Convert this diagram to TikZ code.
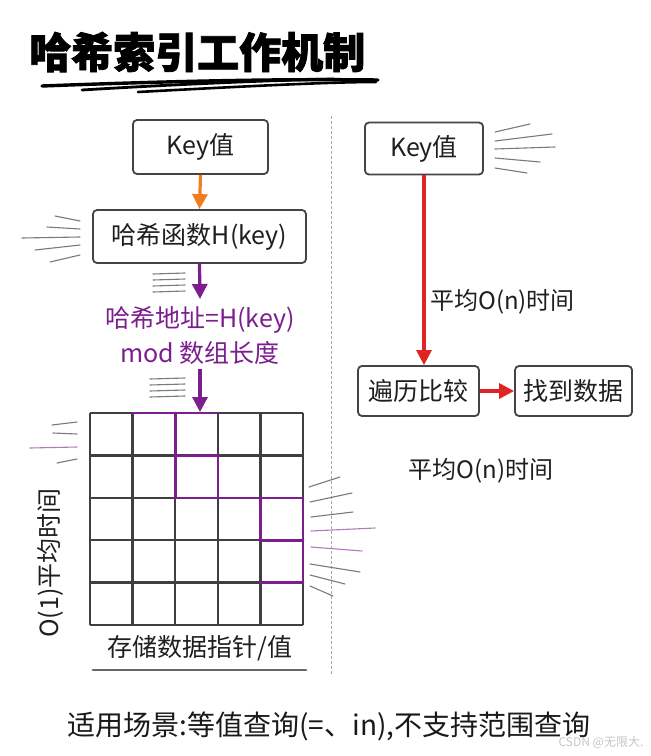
\documentclass[tikz,border=0pt]{standalone}
\usepackage{fontspec}
\setmainfont{Noto Sans CJK SC}[BoldFeatures={FakeBold=2}]
\usetikzlibrary{arrows.meta}
\definecolor{boxline}{HTML}{444444}
\definecolor{gridline}{HTML}{3F3F3F}
\definecolor{hashorange}{HTML}{F07D1E}
\definecolor{hashpurple}{HTML}{7D1E8E}
\definecolor{hashred}{HTML}{E02424}
\definecolor{speedgray}{HTML}{7A7A7A}
\tikzset{
  box/.style={draw=boxline, line width=1.8pt, rounded corners=4pt, fill=white,
    inner sep=0pt, font=\fontsize{25}{30}\selectfont, text=black!88},
  arr/.style={line width=3.2pt, -{Triangle[length=15pt,width=15pt]}},
  speed/.style={draw=speedgray, line width=1.1pt, line cap=round},
  speedp/.style={draw=hashpurple!60, line width=1.1pt, line cap=round},
  lbl/.style={font=\fontsize{24}{30}\selectfont, text=black!88},
}
\begin{document}
\begin{tikzpicture}[x=1pt,y=-1pt]
\useasboundingbox (0,0) rectangle (651,756);
\fill[white] (0,0) rectangle (651,756);

% title
\node[anchor=west, inner sep=0pt, font=\fontsize{42}{46}\bfseries] (title) at (29,52) {哈希索引工作机制};
\draw[line width=3.4pt, line cap=round] (42,86) .. controls (200,80) and (300,79) .. (378,80);
\draw[line width=2.8pt, line cap=round] (82,90) .. controls (180,84) and (280,80) .. (334,79);
\draw[line width=2.6pt, line cap=round] (138,92) .. controls (250,86) and (330,82) .. (376,82);

% dashed divider
\coordinate (dtop) at (331,116);
\coordinate (dbot) at (331,676);
\draw[gray!70, line width=1pt, dash pattern=on 3pt off 2pt] (dtop) -- (dbot);

% left flow
\node[box, minimum width=135pt, minimum height=54pt] (key1) at (200.5,147) {Key值};
\node[box, minimum width=213pt, minimum height=53pt] (hfun) at (199.5,236.5) {哈希函数H(key)};
\node[align=center, text=hashpurple, font=\fontsize{25}{35}\selectfont, inner sep=0pt] (addr) at (200,336) {哈希地址=H(key)\\mod 数组长度};
\coordinate (a1end) at (200,299);
\coordinate (a2start) at (200,369);
\coordinate (gtop) at (200,412);
\draw[arr, hashorange] (key1.south) -- (hfun.north);
\draw[arr, hashpurple] (hfun.south) -- (a1end);
\draw[arr, hashpurple] (a2start) -- (gtop);

% speed lines left of hash function box
\draw[speed] (55,216) -- (80,221);
\draw[speed] (47,227) -- (80,229);
\draw[speed] (22,238) -- (80,237);
\draw[speed] (35,250) -- (80,245);
\draw[speed] (50,262) -- (80,255);
% speed lines beside purple arrows
\foreach \yy in {274,280,286,292} { \draw[speed] (153,\yy) -- (185,\yy-1); }
\foreach \yy in {379,385,391,397} { \draw[speed] (150,\yy) -- (185,\yy-1); }

% grid
\def\gx{42.6}
\def\gy{42.4}
\foreach \i in {0,...,5} {
  \draw[gridline, line width=2.4pt] (90+\i*\gx,413) -- (90+\i*\gx,625);
  \draw[gridline, line width=2.4pt] (90,413+\i*\gy) -- (303,413+\i*\gy);
}
\begin{scope}[hashpurple, line width=2.6pt, line cap=round]
  \draw (90+1*\gx,413) -- (90+3*\gx,413);
  \draw (90+2*\gx,413) -- (90+2*\gx,413+2*\gy);
  \draw (90+3*\gx,413+1*\gy) -- (90+3*\gx,413+2*\gy);
  \draw (90+2*\gx,413+1*\gy) -- (90+3*\gx,413+1*\gy);
  \draw (90+2*\gx,413+2*\gy) -- (303,413+2*\gy);
  \draw (90+4*\gx,413+2*\gy) -- (90+4*\gx,413+3*\gy);
  \draw (303,413+2*\gy) -- (303,413+4*\gy);
  \draw (90+4*\gx,413+3*\gy) -- (303,413+3*\gy);
  \draw (90+4*\gx,413+4*\gy) -- (303,413+4*\gy);
\end{scope}

% speed lines left of grid
\draw[speed] (52,425) -- (77,422);
\draw[speed] (53,433) -- (77,434);
\draw[speedp] (30,448) -- (77,447);
\draw[speed] (57,463) -- (77,459);
% speed lines right of grid
\draw[speed] (309,487) -- (340,477);
\draw[speed] (310,502) -- (352,493);
\draw[speed] (311,517) -- (353,512);
\draw[speedp] (311,531) -- (375,528);
\draw[speedp] (311,547) -- (362,551);
\draw[speed] (310,564) -- (360,572);
\draw[speed] (310,575) -- (345,584);
\draw[speed] (310,586) -- (333,596);

% grid labels
\node[rotate=90, font=\fontsize{25}{30}\selectfont, text=black!88, inner sep=0pt] (o1) at (50,563) {O(1)平均时间};
\node[font=\fontsize{25}{30}\selectfont, text=black!88, inner sep=0pt] (store) at (200,648) {存储数据指针/值};
\draw[gray!80!black, line width=2.8pt, line cap=round] (93,670) -- (306,670);

% right flow
\node[box, minimum width=118pt, minimum height=52pt] (key2) at (424,148.5) {Key值};
\node[box, minimum width=121pt, minimum height=50pt] (trav) at (418.5,391) {遍历比较};
\node[box, minimum width=117pt, minimum height=50pt] (found) at (573.5,391) {找到数据};
\draw[arr, hashred] (key2.south) -- (key2.south |- trav.north);
\draw[arr, hashred] (trav.east) -- (found.west);
\node[lbl, anchor=west, inner sep=0pt] (avg1) at (430,302) {平均O(n)时间};
\node[lbl, inner sep=0pt] (avg2) at (481,471) {平均O(n)时间};

% speed lines right of right key box
\draw[speed] (495,132) -- (530,124);
\draw[speed] (495,141) -- (552,134);
\draw[speed] (495,149) -- (555,147);
\draw[speed] (495,158) -- (540,162);
\draw[speed] (495,168) -- (527,173);

% bottom note
\node[font=\fontsize{28}{32}\selectfont, text=black!90, inner sep=0pt] (note) at (329,726) {适用场景:等值查询(=、in),不支持范围查询};
\node[font=\fontsize{12}{14}\selectfont, text=gray!45, inner sep=0pt] (wm) at (601,742) {CSDN @无限大.};
\end{tikzpicture}
\end{document}
